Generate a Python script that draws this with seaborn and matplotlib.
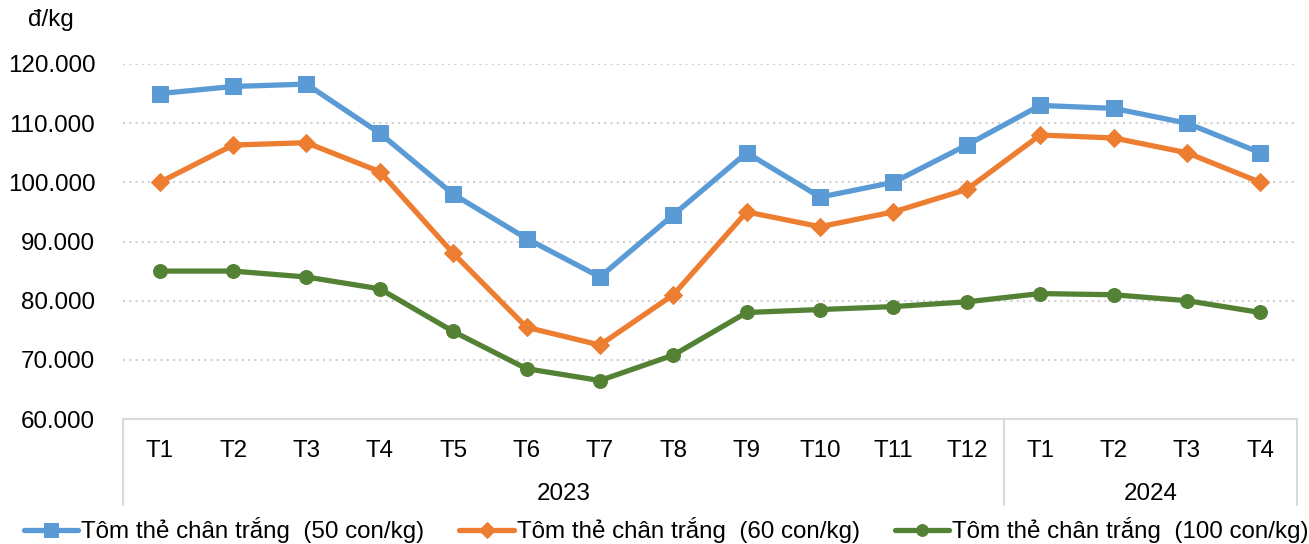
import seaborn as sns
import matplotlib.pyplot as plt
import matplotlib.ticker as mticker
import pandas as pd
import numpy as np

# Giá tôm thẻ chân trắng (đ/kg) theo tháng
months = ["T1", "T2", "T3", "T4", "T5", "T6", "T7", "T8", "T9", "T10", "T11", "T12",
          "T1", "T2", "T3", "T4"]
years = ["2023"] * 12 + ["2024"] * 4
price_50 = [115000, 116200, 116600, 108300, 98000, 90500, 84000, 94500,
            105000, 97500, 100000, 106300, 113000, 112500, 110000, 105000]
price_60 = [100000, 106300, 106700, 101800, 88000, 75500, 72500, 81000,
            95000, 92500, 95000, 98800, 108000, 107500, 105000, 100000]
price_100 = [85000, 85000, 84000, 82000, 74800, 68500, 66500, 70800,
             78000, 78500, 79000, 79800, 81200, 81000, 80000, 78000]
series_names = ["Tôm thẻ chân trắng  (50 con/kg)",
                "Tôm thẻ chân trắng  (60 con/kg)",
                "Tôm thẻ chân trắng  (100 con/kg)"]

df = pd.DataFrame({"pos": np.arange(len(months)), "month": months, "year": years,
                   series_names[0]: price_50, series_names[1]: price_60,
                   series_names[2]: price_100})

sns.set_style("white")
plt.rcParams["font.family"] = ["Liberation Sans", "DejaVu Sans"]
plt.rcParams["font.size"] = 17.4
plt.rcParams["text.color"] = "black"
plt.rcParams["xtick.color"] = "black"
plt.rcParams["ytick.color"] = "black"

fig = plt.figure(figsize=(13.09, 5.44), dpi=100)
ax = fig.add_axes([123 / 1309, 1 - 419 / 544, (1297 - 123) / 1309, (419 - 64) / 544])

styles = [("#5B9BD5", "s", 12), ("#ED7D31", "D", 9), ("#548235", "o", 10)]
for name, (col, mk, ms) in zip(series_names, styles):
    sns.lineplot(data=df, x="pos", y=name, ax=ax, color=col, marker=mk,
                 markersize=ms, markeredgecolor=col, linewidth=3.8, label=name,
                 sort=False)

ax.set_xlim(-0.5, len(months) - 0.5)
ax.set_ylim(60000, 120000)
ax.yaxis.set_major_locator(mticker.MultipleLocator(10000))
ax.yaxis.set_major_formatter(mticker.FuncFormatter(lambda v, p: f"{v:,.0f}".replace(",", ".")))
ax.grid(axis="y", color="#D0D0D0", linestyle=(0, (1, 2)), linewidth=1.5)
ax.set_axisbelow(True)
for s in ["top", "left", "right"]:
    ax.spines[s].set_visible(False)
ax.spines["bottom"].set_color("#D9D9D9")
ax.spines["bottom"].set_linewidth(1.5)
ax.set_xticks(df["pos"], df["month"])
ax.tick_params(axis="x", length=0, pad=15)
ax.tick_params(axis="y", length=0, pad=20)
ax.set_xlabel("")
ax.set_ylabel("")

# Year groups on the category axis
trans = ax.get_xaxis_transform()
year_list = list(dict.fromkeys(years))
bounds = [-0.5]
for yr in year_list:
    idx = [i for i, v in enumerate(years) if v == yr]
    ax.text(np.mean(idx), -0.212, yr, transform=trans, ha="center", va="center")
    bounds.append(idx[-1] + 0.5)
for b in bounds:
    ax.plot([b, b], [0, -0.242], transform=trans, color="#D9D9D9", lw=1.5, clip_on=False)

fig.text(28 / 1309, 1 - 20 / 544, "đ/kg", ha="left", va="center")

handles, labels = ax.get_legend_handles_labels()
ax.get_legend().remove()
fig.legend(handles, labels, loc="center left", bbox_to_anchor=(24 / 1309, 1 - 530 / 544),
           ncol=3, frameon=False, handlelength=2.25, handletextpad=0.12,
           columnspacing=1.45, borderaxespad=0, borderpad=0, markerscale=0.85)

fig.savefig("out.png", dpi=100)
